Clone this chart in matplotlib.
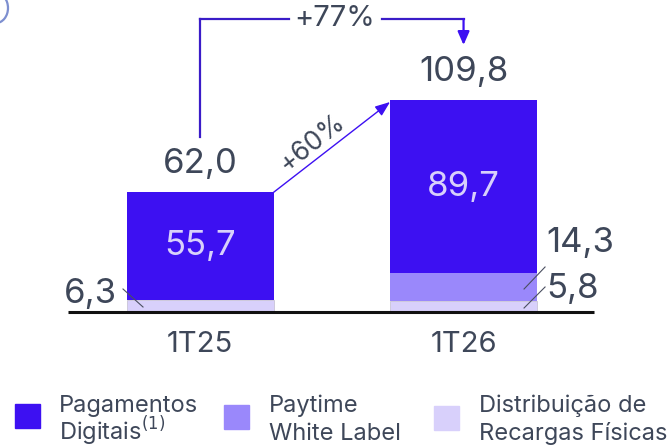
import matplotlib
matplotlib.use("Agg")
import matplotlib.pyplot as plt
from matplotlib.patches import Rectangle, Arc
import numpy as np

plt.rcParams['font.family'] = ['Inter', 'DejaVu Sans']

periods = ["1T25", "1T26"]
pagamentos = [55.7, 89.7]
paytime = [0.0, 14.3]
recargas = [6.3, 5.8]
totals = [62.0, 109.8]
growth_qoq = "+60%"
growth_total = "+77%"
legend_labels = [("Pagamentos", "Digitais$^{(1)}$"),
                 ("Paytime", "White Label"),
                 ("Distribuição de", "Recargas Físicas")]

c_dark = "#3D10F2"
c_mid = "#9A88FB"
c_light = "#D8D0FB"
c_text = "#3E4759"
c_inner = "#D8D0FB"
c_arrow = "#3A1CC8"

W, H = 668, 447
fig = plt.figure(figsize=(W / 100, H / 100), dpi=100)

# axes: baseline at 312 px from top, spanning x 68..594 px
base_px = 312
px_per_unit = 1.93
ax = fig.add_axes([68 / W, (H - base_px) / H, 526 / W, base_px / H])
ax.set_xlim(-0.501, 1.495)
ax.set_ylim(0, base_px / px_per_unit)
ax.axis("off")

x = np.arange(len(periods))
bw = 0.558
bottom_mid = np.array(recargas)
bottom_top = bottom_mid + np.array(paytime)
ax.bar(x, recargas, bw, color=c_light, edgecolor="#C9C4D6", linewidth=0.6)
ax.bar(x, paytime, bw, bottom=bottom_mid, color=c_mid, edgecolor="none")
ax.bar(x, pagamentos, bw, bottom=bottom_top, color=c_dark, edgecolor="none")

# baseline
ax.plot([-0.501, 1.495], [0, 0], color="#111111", lw=2.2, clip_on=False,
        solid_capstyle="butt")

def py(p):
    """pixel row -> data y"""
    return (base_px - p) / px_per_unit

def dx(p):
    """pixel column -> data x"""
    return -0.501 + (p - 68) / 263.5

def fmt(v):
    return f"{v:.1f}".replace(".", ",")

# category labels
for xi, lab in zip(x, periods):
    ax.text(xi, py(344), lab, ha="center", va="center", fontsize=21,
            color=c_text)

# inner values
for xi, b, v in zip(x, bottom_top, pagamentos):
    ax.text(xi, b + v / 2, fmt(v), ha="center", va="center", fontsize=25,
            color=c_inner)

# totals
ax.text(x[0], py(164), fmt(totals[0]), ha="center", va="center",
        fontsize=25, color=c_text)
ax.text(x[1], py(72), fmt(totals[1]), ha="center", va="center",
        fontsize=25, color=c_text)

# small segment labels with leader lines
def lab(xt, yt, s, ha):
    ax.text(xt, yt, s, ha=ha, va="center", fontsize=25, color=c_text)

lab(dx(117), py(294), fmt(recargas[0]), "right")
ax.plot([dx(123), dx(143)], [py(289), py(307)], color="#4A4F60", lw=0.8,
        clip_on=False)
lab(dx(546), py(243), fmt(paytime[1]), "left")
ax.plot([dx(545), dx(524)], [py(267), py(289)], color="#4A4F60", lw=0.8,
        clip_on=False)
lab(dx(546), py(289), fmt(recargas[1]), "left")
ax.plot([dx(545), dx(524)], [py(287), py(308)], color="#4A4F60", lw=0.8,
        clip_on=False)

# +60% arrow between bar tops
x0 = x[0] + bw / 2
x1 = x[1] - bw / 2
ax.annotate("", xy=(x1, totals[1] - 1), xytext=(x0, totals[0]),
            arrowprops=dict(arrowstyle="-|>,head_length=0.9,head_width=0.35",
                            color=c_dark, lw=1.0, shrinkA=0, shrinkB=0),
            annotation_clip=False)
ang = np.degrees(np.arctan2((totals[1] - totals[0]) * px_per_unit,
                            (x1 - x0) * 263.5))
ax.text(dx(312), py(143), growth_qoq, rotation=ang, ha="center",
        va="center", fontsize=19, color=c_text, rotation_mode="anchor")

# +77% bracket arrow
yb = py(19)
ax.plot([x[0], x[0]], [py(137), yb], color=c_arrow, lw=1.6, clip_on=False)
ax.plot([x[0], dx(289)], [yb, yb], color=c_arrow, lw=1.6, clip_on=False)
ax.plot([dx(382), x[1]], [yb, yb], color=c_arrow, lw=1.6, clip_on=False)
ax.annotate("", xy=(x[1], py(45)), xytext=(x[1], yb),
            arrowprops=dict(arrowstyle="-|>,head_length=0.8,head_width=0.35",
                            color=c_dark, lw=1.6, shrinkA=0, shrinkB=0),
            annotation_clip=False)
ax.text(dx(335), yb, growth_total, ha="center", va="center", fontsize=21,
        color=c_text)

# legend: colour swatch plus two text lines on fixed baselines
sq = [(15, 404, c_dark, 59), (224, 405, c_mid, 269),
      (434, 406, c_light, 479)]
for (sx, sy, col, tx), (l1, l2) in zip(sq, legend_labels):
    fig.patches.append(Rectangle((sx / W, 1 - (sy + 24) / H), 25 / W, 24 / H,
                                 transform=fig.transFigure, color=col,
                                 zorder=3))
    fig.text(tx / W, 1 - 412 / H, l1, ha="left", va="baseline", fontsize=17,
             color=c_text)
    fig.text(tx / W, 1 - 440 / H, l2, ha="left", va="baseline", fontsize=17,
             color=c_text)

# partial ring at the top-left corner
fig.patches.append(Arc((-4 / W, 1 - 8 / H), 24 / W, 30 / H,
                       transform=fig.transFigure, color="#7D8FD0", lw=1.6))

fig.savefig("out.png", dpi=100, facecolor="white")
